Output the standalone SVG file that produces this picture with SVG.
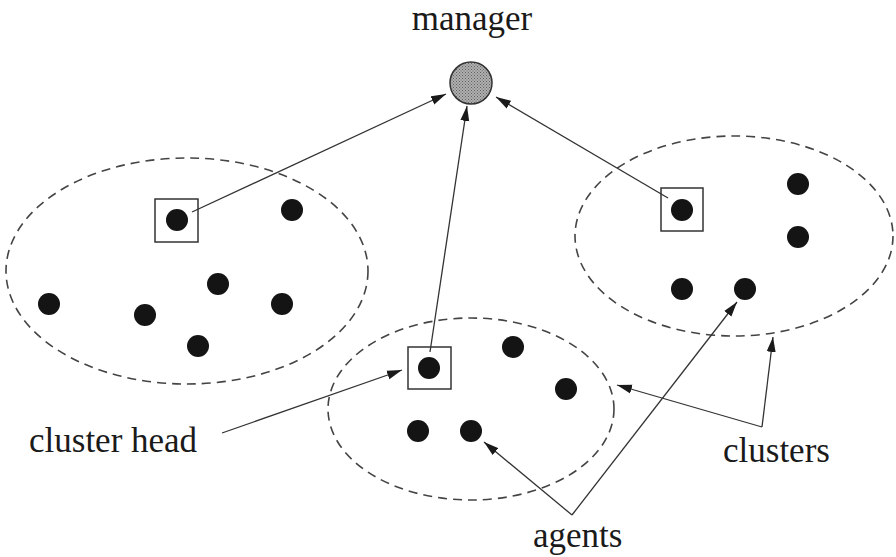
<svg xmlns="http://www.w3.org/2000/svg" width="896" height="557" viewBox="0 0 896 557">
<defs>
<marker id="ah" markerUnits="userSpaceOnUse" markerWidth="16" markerHeight="10" refX="15" refY="5" orient="auto">
<path d="M0,0.5 L15,5 L0,9.5 Z" fill="#1a1a1a"/>
</marker>
<pattern id="dots" width="3" height="3" patternUnits="userSpaceOnUse">
<rect width="3" height="3" fill="#b0b0b0"/>
<rect width="1" height="1" fill="#606060"/>
<rect x="1.5" y="1.5" width="1" height="1" fill="#606060"/>
</pattern>
</defs>
<style>
.cl{fill:none;stroke:#444;stroke-width:1.6;stroke-dasharray:9,6}
.d{fill:#141414}
.bx{fill:none;stroke:#333;stroke-width:1.5}
.ln{fill:none;stroke:#333;stroke-width:1.3;marker-end:url(#ah)}
text{font-family:"Liberation Serif","Times New Roman",serif;font-size:35px;fill:#1a1a1a}
</style>
<rect width="896" height="557" fill="#fff"/>
<g id="cluster-left">
<ellipse class="cl" cx="187" cy="271" rx="181" ry="113"/>
<rect class="bx" x="155" y="199" width="43" height="43"/>
<circle class="d" cx="177" cy="220" r="11"/>
<circle class="d" cx="292" cy="210" r="11"/>
<circle class="d" cx="49" cy="304" r="11"/>
<circle class="d" cx="145" cy="315" r="11"/>
<circle class="d" cx="218" cy="284" r="11"/>
<circle class="d" cx="282" cy="304" r="11"/>
<circle class="d" cx="198" cy="346" r="11"/>
</g>
<g id="cluster-middle">
<ellipse class="cl" cx="471" cy="409" rx="143" ry="91"/>
<rect class="bx" x="408" y="347" width="43" height="42"/>
<circle class="d" cx="429" cy="368" r="11"/>
<circle class="d" cx="513" cy="347" r="11"/>
<circle class="d" cx="566" cy="389" r="11"/>
<circle class="d" cx="418" cy="431" r="11"/>
<circle class="d" cx="471" cy="431" r="11"/>
</g>
<g id="cluster-right">
<ellipse class="cl" cx="734" cy="236" rx="159" ry="100"/>
<rect class="bx" x="661" y="188" width="42" height="43"/>
<circle class="d" cx="682" cy="210" r="11"/>
<circle class="d" cx="798" cy="184" r="11"/>
<circle class="d" cx="798" cy="237" r="11"/>
<circle class="d" cx="682" cy="289" r="11"/>
<circle class="d" cx="745" cy="289" r="11"/>
</g>
<g id="manager">
<circle cx="471" cy="83" r="21" fill="url(#dots)" stroke="#333" stroke-width="1.5"/>
<text x="472" y="30" text-anchor="middle">manager</text>
</g>
<g id="connectors">
<line class="ln" x1="192" y1="212" x2="446" y2="94"/>
<line class="ln" x1="430" y1="352" x2="467" y2="106"/>
<line class="ln" x1="668" y1="198" x2="496" y2="97"/>
<line class="ln" x1="222" y1="433" x2="402" y2="370"/>
<line class="ln" x1="762" y1="427" x2="617" y2="385"/>
<line class="ln" x1="762" y1="427" x2="773" y2="337"/>
<line class="ln" x1="572" y1="515" x2="484" y2="442"/>
<line class="ln" x1="572" y1="515" x2="737" y2="302"/>
</g>
<g id="labels">
<text x="29" y="452">cluster head</text>
<text x="723" y="462">clusters</text>
<text x="533" y="547">agents</text>
</g>
</svg>
